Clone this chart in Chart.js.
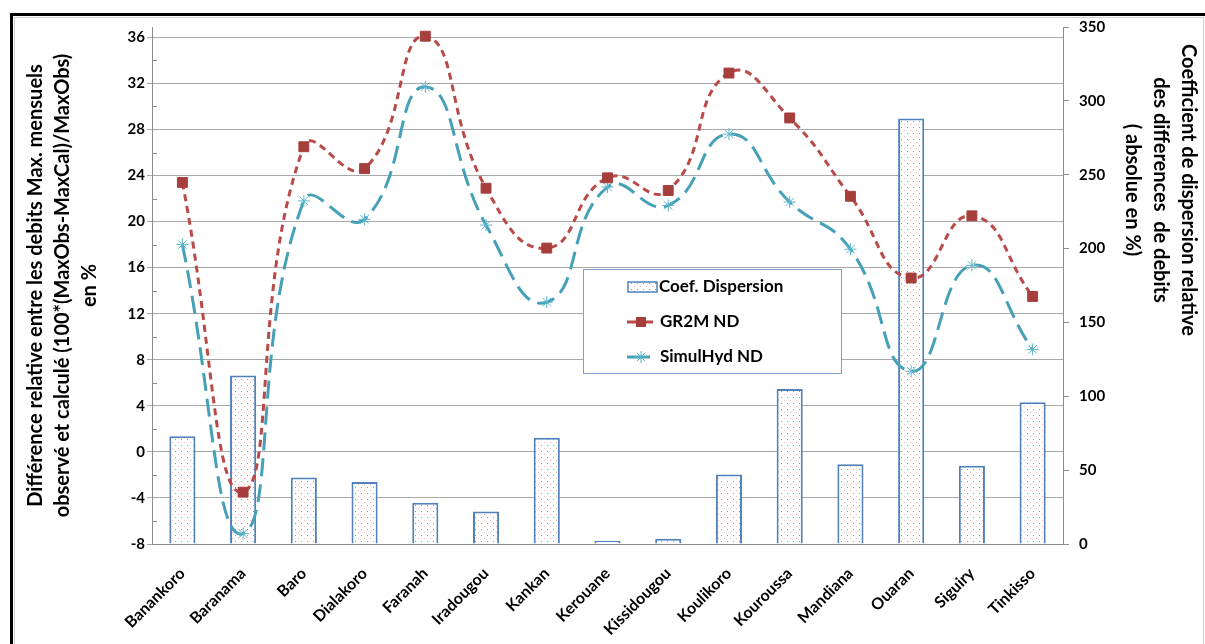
<!DOCTYPE html>
<html>
<head>
<meta charset="utf-8">
<script src="https://cdn.jsdelivr.net/npm/chart.js@4"></script>
<style>
  html, body { margin: 0; padding: 0; background: #fff; }
  #wrap { position: relative; width: 1205px; height: 644px; }
</style>
</head>
<body>
<div id="wrap"><canvas id="chart" width="1205" height="644"></canvas></div>
<script>
const stations = ['Banankoro', 'Baranama', 'Baro', 'Dialakoro', 'Faranah', 'Iradougou', 'Kankan', 'Kerouane',
	'Kissidougou', 'Koulikoro', 'Kouroussa', 'Mandiana', 'Ouaran', 'Siguiry', 'Tinkisso'];
// right axis (%)
const coefDispersion = [73, 114, 45, 42, 28, 22, 72, 2, 3.5, 47, 105, 54, 288, 53, 96];
// left axis (%)
const gr2mND = [23.4, -3.5, 26.5, 24.6, 36.1, 22.9, 17.7, 23.8, 22.7, 32.9, 29.0, 22.2, 15.1, 20.5, 13.5];
const simulHydND = [18.0, -7.1, 21.8, 20.2, 31.7, 19.7, 13.0, 23.0, 21.4, 27.6, 21.7, 17.6, 7.0, 16.2, 8.9];

const leftTicks = [-8, -4, 0, 4, 8, 12, 16, 20, 24, 28, 32, 36];
const rightTicks = [0, 50, 100, 150, 200, 250, 300, 350];

const seriesLabels = ['Coef. Dispersion', 'GR2M ND', 'SimulHyd ND'];
const leftTitle = ['Différence relative entre les debits Max. mensuels',
	'observé et calculé (100*(MaxObs-MaxCal)/MaxObs)', 'en %'];
const rightTitle = ['Coefficient de dispersion relative', 'des differences  de debits', '( absolue en %)'];

const FONT = 'Lato';
const RED = '#b84a47';
const RED_MARK = '#a63f3c';
const BLUE = '#45a0b8';
const BLUE_MARK = '#5bb5cd';
const BAR_EDGE = '#4f81bd';

function dotPattern(ctx) {
	const c = document.createElement('canvas');
	c.width = 6; c.height = 6;
	const g = c.getContext('2d');
	g.fillStyle = '#fff';
	g.fillRect(0, 0, 6, 6);
	g.fillStyle = '#f07070';
	g.fillRect(1, 1, 1, 1);
	g.fillStyle = '#f8b8b8';
	g.fillRect(4, 4, 1, 1);
	return ctx.createPattern(c, 'repeat');
}

function drawStar(ctx, x, y, r, colour) {
	ctx.save();
	ctx.strokeStyle = colour;
	ctx.lineWidth = 1;
	ctx.beginPath();
	for (let i = 0; i < 4; i++) {
		const a = i * Math.PI / 4;
		ctx.moveTo(x - r * Math.cos(a), y - r * Math.sin(a));
		ctx.lineTo(x + r * Math.cos(a), y + r * Math.sin(a));
	}
	ctx.stroke();
	ctx.restore();
}

const framePlugin = {
	id: 'frame',
	afterDraw(chart) {
		const ctx = chart.ctx;
		ctx.save();
		ctx.strokeStyle = '#cfcfcf';
		ctx.lineWidth = 1;
		ctx.beginPath();
		ctx.moveTo(14.5, 700); ctx.lineTo(14.5, 17.5); ctx.lineTo(1203.5, 17.5); ctx.lineTo(1203.5, 700);
		ctx.stroke();
		ctx.strokeStyle = '#000';
		ctx.lineWidth = 3;
		ctx.beginPath();
		ctx.moveTo(11.5, 700); ctx.lineTo(11.5, 14.5); ctx.lineTo(1220, 14.5);
		ctx.stroke();
		ctx.restore();
	}
};

// minor tick marks on the left axis, drawn inside the plot
const minorTicksPlugin = {
	id: 'minorTicks',
	afterDatasetsDraw(chart) {
		const s = chart.scales.y;
		const ctx = chart.ctx;
		ctx.save();
		ctx.strokeStyle = '#8c8c8c';
		ctx.lineWidth = 1;
		ctx.beginPath();
		for (let i = 0; i < leftTicks.length - 1; i++) {
			const y = Math.round(s.getPixelForValue((leftTicks[i] + leftTicks[i + 1]) / 2)) + 0.5;
			ctx.moveTo(s.right, y);
			ctx.lineTo(s.right + 5, y);
		}
		ctx.stroke();
		ctx.restore();
	}
};

const rightTitlePlugin = {
	id: 'rightTitle',
	afterDraw(chart) {
		const ctx = chart.ctx;
		ctx.save();
		ctx.translate(1188, 190);
		ctx.rotate(Math.PI / 2);
		ctx.font = 'bold 20px ' + FONT;
		ctx.fillStyle = '#000';
		ctx.textAlign = 'center';
		ctx.textBaseline = 'middle';
		rightTitle.forEach((line, i) => ctx.fillText(line, 0, i * 28));
		ctx.restore();
	}
};

const legendPlugin = {
	id: 'boxLegend',
	afterDraw(chart) {
		const ctx = chart.ctx;
		const ds = chart.data.datasets;
		ctx.save();
		ctx.fillStyle = '#fff';
		ctx.fillRect(583.5, 269.5, 258, 104);
		ctx.strokeStyle = '#7e9fd0';
		ctx.lineWidth = 1;
		ctx.strokeRect(583.5, 269.5, 258, 104);

		// bars
		ctx.fillStyle = ds[0].backgroundColor;
		ctx.fillRect(628, 282, 29, 10);
		ctx.strokeStyle = BAR_EDGE;
		ctx.lineWidth = 1.5;
		ctx.strokeRect(628, 282, 29, 10);

		// GR2M
		ctx.strokeStyle = RED;
		ctx.lineWidth = 3;
		ctx.beginPath(); ctx.moveTo(627, 322); ctx.lineTo(653, 322); ctx.stroke();
		ctx.fillStyle = RED_MARK;
		ctx.fillRect(636, 317, 10, 10);

		// SimulHyd
		ctx.strokeStyle = BLUE;
		ctx.beginPath(); ctx.moveTo(627, 357); ctx.lineTo(650, 357); ctx.stroke();
		drawStar(ctx, 641, 357, 6, BLUE_MARK);

		ctx.font = 'bold 17px ' + FONT;
		ctx.fillStyle = '#000';
		ctx.textBaseline = 'middle';
		ctx.fillText(ds[0].label, 659, 287);
		ctx.fillText(ds[1].label, 660, 322);
		ctx.fillText(ds[2].label, 660, 357);
		ctx.restore();
	}
};

function draw() {
	const canvas = document.getElementById('chart');
	const ctx = canvas.getContext('2d');
	const tickFont = { family: FONT, weight: 'bold', size: 15 };

	new Chart(ctx, {
		data: {
			labels: stations,
			datasets: [
				{
					type: 'bar',
					label: seriesLabels[0],
					data: coefDispersion,
					yAxisID: 'y1',
					backgroundColor: dotPattern(ctx),
					borderColor: BAR_EDGE,
					borderWidth: 2,
					barPercentage: 0.43,
					categoryPercentage: 1,
					order: 3
				},
				{
					type: 'line',
					label: seriesLabels[1],
					data: gr2mND,
					yAxisID: 'y',
					borderColor: RED,
					borderWidth: 3,
					borderDash: [7, 5],
					tension: 0.5,
					fill: false,
					pointStyle: 'rect',
					pointRadius: 7,
					pointBackgroundColor: RED_MARK,
					pointBorderColor: RED_MARK,
					pointBorderWidth: 1,
					order: 1
				},
				{
					type: 'line',
					label: seriesLabels[2],
					data: simulHydND,
					yAxisID: 'y',
					borderColor: BLUE,
					borderWidth: 3,
					borderDash: [18, 8],
					tension: 0.5,
					fill: false,
					pointStyle: 'star',
					pointRadius: 6,
					pointBackgroundColor: BLUE_MARK,
					pointBorderColor: BLUE_MARK,
					pointBorderWidth: 1,
					order: 2
				}
			]
		},
		options: {
			responsive: false,
			animation: false,
			layout: { padding: { left: 0, right: 0, top: 27, bottom: 0 } },
			plugins: {
				legend: { display: false },
				tooltip: { enabled: false }
			},
			scales: {
				x: {
					grid: { display: false },
					border: { color: '#8c8c8c' },
					ticks: {
						color: '#000',
						font: { family: FONT, weight: 'bold', size: 16 },
						minRotation: 45,
						maxRotation: 45,
						autoSkip: false,
						padding: 12
					},
					afterFit(s) { s.height = 100; }
				},
				y: {
					position: 'left',
					min: -8,
					max: 36.9,
					ticks: { color: '#000', font: tickFont, padding: 2 },
					afterBuildTicks(s) { s.ticks = leftTicks.map(v => ({ value: v })); },
					grid: { color: '#a8a8a8', tickLength: 5 },
					border: { color: '#8c8c8c' },
					title: {
						display: true,
						text: leftTitle,
						color: '#000',
						font: { family: FONT, weight: 'bold', size: 20, lineHeight: 1.35 },
						padding: { top: 22, bottom: 0 }
					},
					afterFit(s) { s.width = 152; }
				},
				y1: {
					position: 'right',
					min: 0,
					max: 350,
					ticks: { color: '#000', font: tickFont, padding: 10 },
					afterBuildTicks(s) { s.ticks = rightTicks.map(v => ({ value: v })); },
					grid: { drawOnChartArea: false, tickLength: 6, color: '#8c8c8c' },
					border: { color: '#8c8c8c' },
					afterFit(s) { s.width = 142; }
				}
			}
		},
		plugins: [minorTicksPlugin, legendPlugin, rightTitlePlugin, framePlugin]
	});
}

document.fonts.load('bold 14px ' + FONT).then(draw, draw);
</script>
</body>
</html>
